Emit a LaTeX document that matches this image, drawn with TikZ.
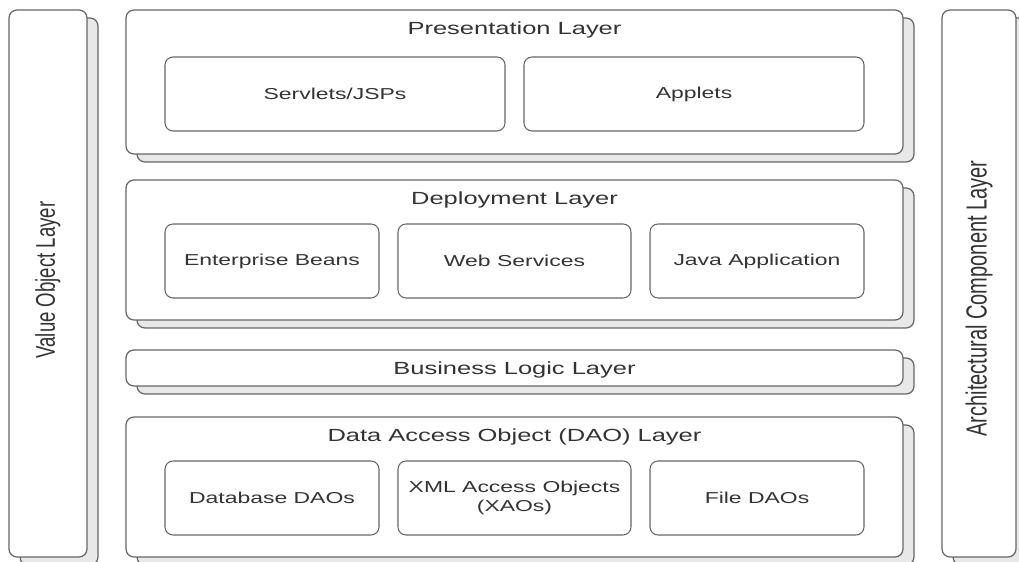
\documentclass[tikz,border=0pt]{standalone}
\usepackage{fontspec}
\setmainfont{Liberation Sans}
\newfontfamily\widefont{Liberation Sans}[FakeStretch=1.45]
\usetikzlibrary{shadows}
\definecolor{edgegray}{HTML}{666666}
\definecolor{shadegray}{HTML}{E8E8E8}
\definecolor{inkgray}{HTML}{333333}
\newcommand{\tallstretch}[1]{\scalebox{1}[1.45]{#1}}
\begin{document}
\begin{tikzpicture}[
  layer/.style={draw=edgegray,fill=white,line width=0.7pt,rounded corners=0.16cm,inner sep=0pt,
    copy shadow={shadow xshift=0.22cm,shadow yshift=-0.16cm,fill=shadegray,draw=edgegray,line width=0.7pt}},
  wide/.style={layer,minimum width=15.54cm},
  side/.style={layer,minimum height=10.94cm},
  title/.style={text=inkgray,font=\widefont\fontsize{10}{12}\selectfont},
  sidetitle/.style={text=inkgray,rotate=90},
  part/.style={draw=edgegray,fill=white,line width=0.6pt,rounded corners=0.16cm,inner sep=0pt,
    minimum height=1.48cm,text=inkgray,align=center,font=\widefont\fontsize{9}{11}\selectfont}
]
  \useasboundingbox[fill=white] (0,0) rectangle (20.38,11.24);
  \node[side,minimum width=1.56cm] (valueobj) at (0.96,5.57) {};
  \node[side,minimum width=1.48cm] (archcomp) at (19.58,5.57) {};
  \node[sidetitle,font=\fontsize{10.6}{12}\selectfont] at ([yshift=0.07cm]valueobj.center) {\tallstretch{Value Object Layer}};
  \node[sidetitle,font=\fontsize{11.4}{13}\selectfont] at ([yshift=-0.3cm]archcomp.center) {\tallstretch{Architectural Component Layer}};
  \node[wide,minimum height=2.88cm] (presentation) at (10.29,9.6) {};
  \node[wide,minimum height=2.8cm] (deployment) at (10.29,6.24) {};
  \node[wide,minimum height=0.72cm] (business) at (10.29,3.88) {};
  \node[wide,minimum height=2.8cm] (dao) at (10.29,1.5) {};
  \node[title] at ([yshift=-0.42cm]presentation.north) {Presentation Layer};
  \node[title] at ([yshift=-0.41cm]deployment.north) {Deployment Layer};
  \node[title] at ([yshift=-0.04cm]business.center) {Business Logic Layer};
  \node[title] at ([yshift=-0.42cm]dao.north) {Data Access Object (DAO) Layer};
  \node[part,minimum width=6.8cm] (servlets) at (6.7,9.36) {Servlets/JSPs};
  \node[part,minimum width=6.8cm] (applets) at (13.88,9.36) {Applets};
  \node[part,minimum width=4.28cm] (beans) at (5.44,6.02) {Enterprise Beans};
  \node[part,minimum width=4.66cm] (webserv) at (10.29,6.02) {Web Services};
  \node[part,minimum width=4.28cm] (javaapp) at (15.14,6.02) {Java Application};
  \node[part,minimum width=4.28cm] (dbdao) at (5.44,1.28) {Database DAOs};
  \node[part,minimum width=4.66cm] (xao) at (10.29,1.28) {XML Access Objects\\(XAOs)};
  \node[part,minimum width=4.28cm] (filedao) at (15.14,1.28) {File DAOs};
\end{tikzpicture}
\end{document}
